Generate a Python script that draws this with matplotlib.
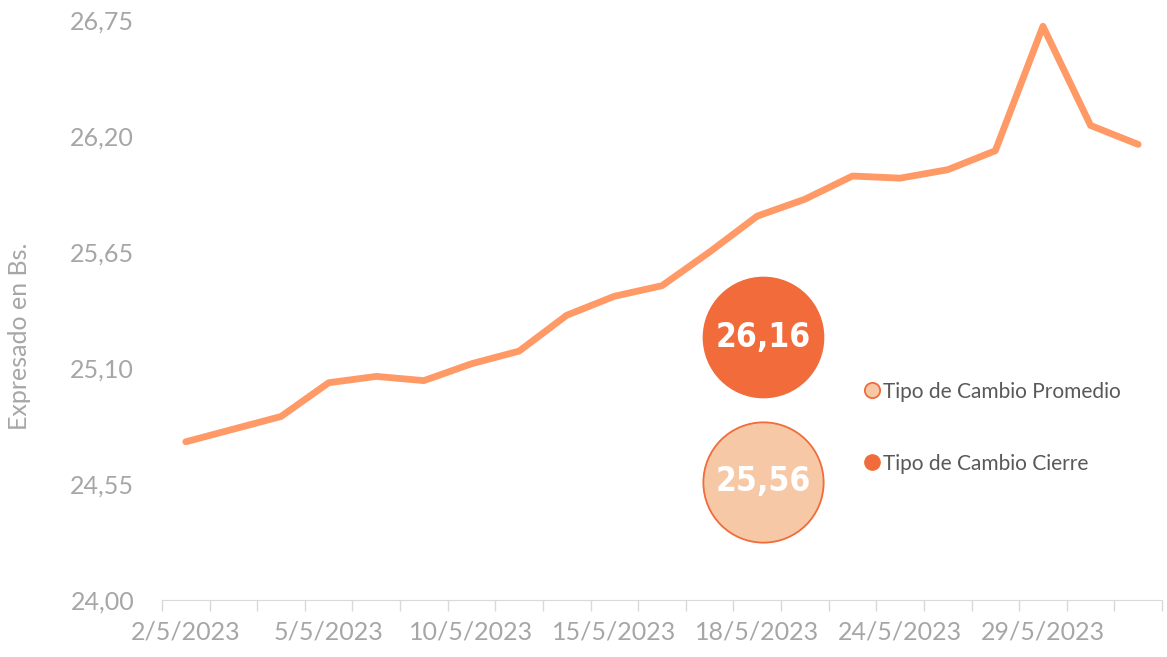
import numpy as np
import matplotlib.pyplot as plt
from matplotlib.lines import Line2D

# business days of May 2023
days = [2, 3, 4, 5, 8, 9, 10, 11, 12, 15, 16, 17, 18, 19, 22, 24, 25, 26, 29, 30, 31]
labels = [f"{d}/5/2023" for d in days]

# exchange rate (Bs.)
rate = [24.75, 24.81, 24.87, 25.03, 25.06, 25.04, 25.12, 25.18, 25.35, 25.44,
        25.49, 25.65, 25.82, 25.90, 26.01, 26.00, 26.04, 26.13, 26.72, 26.25, 26.16]

closing = "26,16"
average = "25,56"

yticks = [24.00, 24.55, 25.10, 25.65, 26.20, 26.75]

line_col = "#FF9966"
dark = "#F26B3A"
light = "#F6C8A6"
grey = "#A6A6A6"

fig = plt.figure(figsize=(11.67, 6.57), dpi=100)
ax = fig.add_axes([0.1388, 0.0868, 0.8569, 0.8828])

x = np.arange(len(rate))
ax.plot(x, rate, color=line_col, lw=4.9, solid_capstyle="round", solid_joinstyle="round")

ax.set_xlim(-0.5, len(rate) - 0.5)
ax.set_ylim(24.0, 26.75)

ax.set_yticks(yticks)
ax.set_yticklabels([f"{v:.2f}".replace(".", ",") for v in yticks],
                   fontsize=18, color=grey, family="Lato")
ax.tick_params(axis="y", length=0, pad=20)

ax.set_xticks(x[::3])
ax.set_xticklabels(labels[::3], fontsize=18, color=grey, family="Lato")
ax.set_xticks(np.arange(len(rate) + 1) - 0.5, minor=True)
ax.tick_params(axis="x", which="major", length=0, pad=15)
ax.tick_params(axis="x", which="minor", length=8, color="#D9D9D9", width=1)

for s in ["top", "right", "left"]:
    ax.spines[s].set_visible(False)
ax.spines["bottom"].set_color("#D9D9D9")

ax.set_ylabel("Expresado en Bs.", fontsize=18, color=grey, family="Lato")
ax.yaxis.set_label_coords(-0.131, 0.455)

# value bubbles
ax.scatter([0.601], [0.453], s=7500, color=dark, edgecolor=dark, transform=ax.transAxes, zorder=3)
ax.scatter([0.601], [0.204], s=7500, color=light, edgecolor=dark, linewidth=1.3,
           transform=ax.transAxes, zorder=3)
num_font = dict(fontsize=24, color="white", fontweight="bold", ha="center", va="center",
                family="DejaVu Sans", fontstretch="condensed",
                transform=ax.transAxes, zorder=4)
ax.text(0.601, 0.453, closing, **num_font)
ax.text(0.601, 0.204, average, **num_font)

handles = [
    Line2D([], [], ls="", marker="o", ms=11, mfc=light, mec=dark, mew=1.3),
    Line2D([], [], ls="", marker="o", ms=11, mfc=dark, mec=dark),
]
leg = ax.legend(handles, ["Tipo de Cambio Promedio", "Tipo de Cambio Cierre"],
                loc="center left", bbox_to_anchor=(0.692, 0.297), frameon=False,
                labelspacing=2.5, handlelength=0.75, handletextpad=0.15,
                borderpad=0, prop={"family": "Lato", "size": 15})
for t in leg.get_texts():
    t.set_color("#595959")

fig.savefig("out.png", dpi=100)
